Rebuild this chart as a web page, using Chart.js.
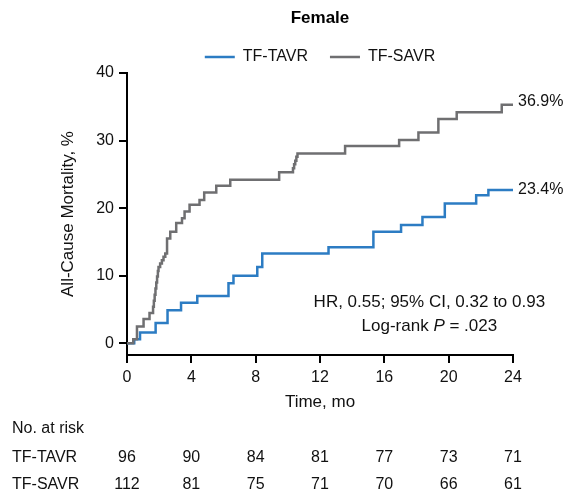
<!DOCTYPE html>
<html>
<head>
<meta charset="utf-8">
<script src="https://cdn.jsdelivr.net/npm/chart.js@4"></script>
<style>
  body { margin: 0; background: #fff; }
  canvas { display: block; }
</style>
</head>
<body>
<canvas id="kmChart" width="570" height="496"></canvas>
<script>
// Kaplan-Meier curves (months, all-cause mortality %)
const tavrTime = [0, 0.45, 0.81, 1.78, 2.52, 3.36, 4.37, 6.31, 6.62, 8.10, 8.41, 12.53, 15.32, 17.04, 18.37, 19.76, 21.71, 22.47, 24];
const tavrRate = [0, 0.6, 1.6, 3.0, 4.9, 6.0, 7.0, 8.9, 10.0, 11.3, 13.3, 14.2, 16.5, 17.5, 18.7, 20.7, 21.9, 22.7, 22.7];

const savrTime = [0, 0.39, 0.62, 1.03, 1.40, 1.62, 1.67, 1.72, 1.77, 1.82, 1.87, 1.92, 1.96, 2.06, 2.17, 2.27, 2.38, 2.49, 2.69, 3.06, 3.42, 3.58, 3.89, 4.51, 4.80, 5.55, 6.42, 9.46, 10.32, 10.39, 10.46, 10.53, 10.60, 13.56, 16.92, 18.12, 19.36, 20.50, 23.30, 24];
const savrRate = [0, 0.6, 2.5, 3.6, 4.5, 5.4, 6.3, 7.2, 8.1, 9.0, 9.9, 10.7, 11.3, 11.8, 12.3, 12.8, 13.3, 15.5, 16.5, 17.8, 18.5, 19.5, 20.5, 21.2, 22.3, 23.3, 24.2, 25.3, 25.9, 26.5, 27.0, 27.6, 28.1, 29.2, 30.1, 31.2, 33.2, 34.2, 35.3, 35.3];

const seriesNames = ['TF-TAVR', 'TF-SAVR'];
const endLabels = ['23.4%', '36.9%'];

const xTicks = [0, 4, 8, 12, 16, 20, 24];
const yTicks = [0, 10, 20, 30, 40];

// Number at risk table
const riskTimes = [0, 4, 8, 12, 16, 20, 24];
const riskTavr = [96, 90, 84, 81, 77, 73, 71];
const riskSavr = [112, 81, 75, 71, 70, 66, 61];

const statLine1 = 'HR, 0.55; 95% CI, 0.32 to 0.93';
const statLine2 = ['Log-rank ', 'P', ' = .023'];

const FONT = "'Liberation Sans', Arial, Helvetica, sans-serif";
const BLUE = '#2c7cc3';
const GRAY = '#6f6f71';

function toPoints(times, rates) {
    return times.map((t, i) => ({ x: t, y: rates[i] }));
}

// Text drawn around the plot: end values, HR box and risk table
const extrasPlugin = {
    id: 'extras',
    afterDraw(chart) {
        const ctx = chart.ctx;
        const x = chart.scales.x;
        const y = chart.scales.y;
        const area = chart.chartArea;

        ctx.save();
        ctx.fillStyle = '#111';
        ctx.textBaseline = 'middle';

        // values at the end of each curve
        ctx.font = '16px ' + FONT;
        ctx.textAlign = 'left';
        chart.data.datasets.forEach((ds, i) => {
            const last = ds.data[ds.data.length - 1];
            ctx.fillText(endLabels[i], area.right + 5, y.getPixelForValue(last.y) - (i === 1 ? 3 : 0));
        });

        // hazard ratio text
        ctx.font = '17px ' + FONT;
        ctx.textAlign = 'center';
        const cx = x.getPixelForValue(18.8);
        ctx.fillText(statLine1, cx, 302);
        const wA = ctx.measureText(statLine2[0]).width;
        ctx.font = 'italic 17px ' + FONT;
        const wB = ctx.measureText(statLine2[1]).width;
        ctx.font = '17px ' + FONT;
        const wC = ctx.measureText(statLine2[2]).width;
        let sx = cx - (wA + wB + wC) / 2;
        ctx.textAlign = 'left';
        ctx.fillText(statLine2[0], sx, 326);
        ctx.font = 'italic 17px ' + FONT;
        ctx.fillText(statLine2[1], sx + wA, 326);
        ctx.font = '17px ' + FONT;
        ctx.fillText(statLine2[2], sx + wA + wB, 326);

        // number at risk
        ctx.font = '16px ' + FONT;
        ctx.textAlign = 'left';
        ctx.fillText('No. at risk', 12, 429);
        ctx.fillText(seriesNames[0], 12, 458);
        ctx.fillText(seriesNames[1], 12, 485);
        ctx.textAlign = 'center';
        riskTimes.forEach((t, i) => {
            const px = x.getPixelForValue(t);
            ctx.fillText(String(riskTavr[i]), px, 458);
            ctx.fillText(String(riskSavr[i]), px, 485);
        });
        ctx.restore();
    }
};

const axisGrid = {
    drawOnChartArea: false,
    drawTicks: true,
    tickLength: 8,
    color: '#000',
    lineWidth: 2
};

new Chart(document.getElementById('kmChart').getContext('2d'), {
    type: 'line',
    data: {
        datasets: [
            {
                label: seriesNames[0],
                data: toPoints(tavrTime, tavrRate),
                borderColor: BLUE,
                backgroundColor: BLUE,
                borderWidth: 2.5,
                stepped: 'before',
                pointRadius: 0,
                fill: false,
                order: 1
            },
            {
                label: seriesNames[1],
                data: toPoints(savrTime, savrRate),
                borderColor: GRAY,
                backgroundColor: GRAY,
                borderWidth: 2.5,
                stepped: 'before',
                pointRadius: 0,
                fill: false,
                order: 0
            }
        ]
    },
    options: {
        responsive: false,
        animation: false,
        layout: {
            padding: { left: 50, right: 57, top: 0, bottom: 81 }
        },
        plugins: {
            title: {
                display: true,
                text: 'Female',
                color: '#000',
                fullSize: false,
                font: { family: FONT, size: 17, weight: 'bold', lineHeight: 1 },
                padding: { top: 10, bottom: 0 }
            },
            legend: {
                display: true,
                fullSize: false,
                maxHeight: 46,
                labels: {
                    usePointStyle: true,
                    pointStyle: 'line',
                    pointStyleWidth: 30,
                    padding: 22,
                    color: '#111',
                    font: { family: FONT, size: 16 },
                    sort: (a, b) => a.datasetIndex - b.datasetIndex
                }
            },
            tooltip: { enabled: false }
        },
        scales: {
            x: {
                type: 'linear',
                min: 0,
                max: 24,
                afterBuildTicks: scale => { scale.ticks = xTicks.map(v => ({ value: v })); },
                afterFit: scale => { scale.height = 60; },
                grid: axisGrid,
                border: { display: true, color: '#000', width: 2 },
                ticks: {
                    color: '#111',
                    padding: 5,
                    maxRotation: 0,
                    font: { family: FONT, size: 16 }
                },
                title: {
                    display: true,
                    text: 'Time, mo',
                    color: '#111',
                    font: { family: FONT, size: 17 },
                    padding: { top: 0, bottom: 2 }
                }
            },
            y: {
                type: 'linear',
                min: -1.73,
                max: 40,
                afterBuildTicks: scale => { scale.ticks = yTicks.map(v => ({ value: v })); },
                afterFit: scale => { scale.width = 77; },
                grid: axisGrid,
                border: { display: true, color: '#000', width: 2 },
                ticks: {
                    color: '#111',
                    padding: 5,
                    font: { family: FONT, size: 16 }
                },
                title: {
                    display: true,
                    text: 'All-Cause Mortality, %',
                    color: '#111',
                    font: { family: FONT, size: 17 },
                    padding: { top: 8, bottom: 0 }
                }
            }
        }
    },
    plugins: [extrasPlugin]
});
</script>
</body>
</html>
